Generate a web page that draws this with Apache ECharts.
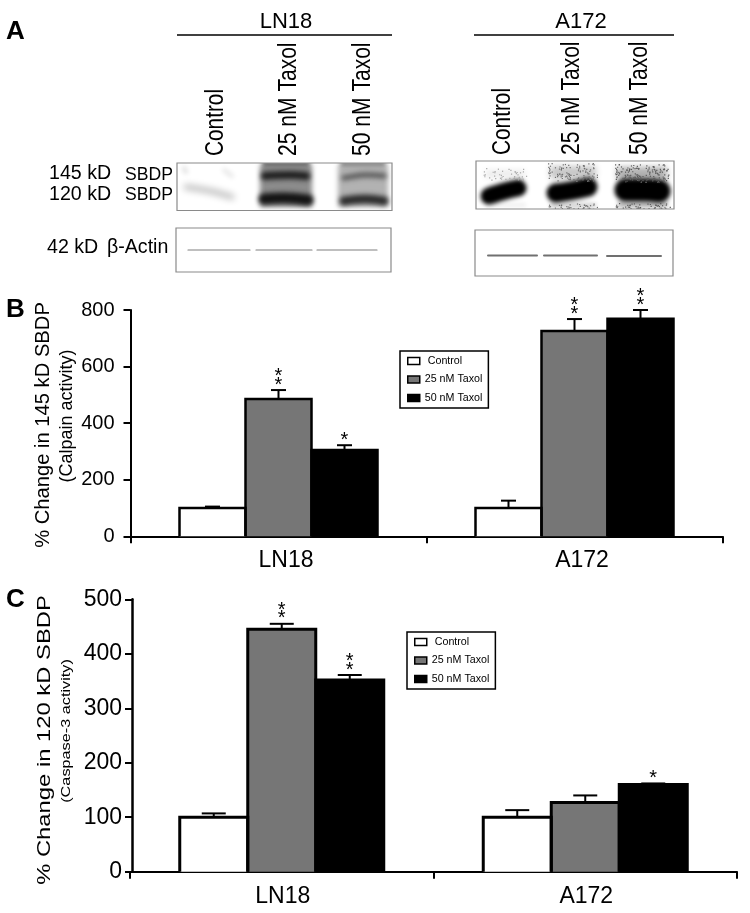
<!DOCTYPE html>
<html>
<head>
<meta charset="utf-8">
<title>SBDP</title>
<script src="https://cdn.jsdelivr.net/npm/echarts@6/dist/echarts.min.js"></script>
<style>
  html, body { margin: 0; padding: 0; background: #fff; }
  #main { width: 750px; height: 913px; }
</style>
</head>
<body>
<div id="main"></div>
<script>
var FONT = '"Liberation Sans", Arial, sans-serif';

var cellLines = ['LN18', 'A172'];
var treatments = ['Control', '25 nM Taxol', '50 nM Taxol'];
var fills = ['#ffffff', '#767676', '#000000'];

// panel B, 145 kD, one value per cell line
var b145Control = [100, 100];
var b145Taxol25 = [485, 726];
var b145Taxol50 = [305, 769];
var b145ControlErr = [5, 26];
var b145Taxol25Err = [32, 42];
var b145Taxol50Err = [17, 31];
var b145Stars = [[0, 0], [2, 2], [1, 2]];

// panel C, 120 kD
var c120Control = [100, 100];
var c120Taxol25 = [445, 127];
var c120Taxol50 = [352, 160];
var c120ControlErr = [7, 13];
var c120Taxol25Err = [10, 13];
var c120Taxol50Err = [9, 2];
var c120Stars = [[0, 0], [2, 0], [2, 1]];

var BAR_B = 66;
var BAR_C = 68;
var CAP_B = 15;
var CAP_C = 24;

var chart = echarts.init(document.getElementById('main'));

// rows for the overlay series: group, treatment, mean, error, stars
function errorRows(means, errs, stars) {
  var rows = [];
  means.forEach(function (m, t) {
    m.forEach(function (v, g) {
      rows.push([g, t, v, errs[t][g], stars[t][g]]);
    });
  });
  return rows;
}

// bar outline (open at the bottom, the axis closes it), error bar and stars
function errorSeries(gridIdx, rows, barW, capW, border) {
  return {
    type: 'custom',
    xAxisIndex: gridIdx,
    yAxisIndex: gridIdx,
    z: 5,
    clip: false,
    encode: { x: 0, y: 2 },
    data: rows,
    renderItem: function (params, api) {
      var g = api.value(0), t = api.value(1), mean = api.value(2), err = api.value(3), n = api.value(4);
      var base = api.coord([g, mean]);
      var zero = api.coord([g, 0]);
      var cap = api.coord([g, mean + err]);
      var x = base[0] + (t - 1) * barW;
      var kids = [
        {
          type: 'polyline',
          shape: { points: [[x - barW / 2, zero[1]], [x - barW / 2, base[1]], [x + barW / 2, base[1]], [x + barW / 2, zero[1]]] },
          style: { fill: 'none', stroke: '#000', lineWidth: border }
        },
        { type: 'line', shape: { x1: x, y1: base[1], x2: x, y2: cap[1] }, style: { stroke: '#000', lineWidth: 2 } },
        { type: 'line', shape: { x1: x - capW / 2, y1: cap[1], x2: x + capW / 2, y2: cap[1] }, style: { stroke: '#000', lineWidth: 2 } }
      ];
      for (var i = 0; i < n; i++) {
        kids.push({
          type: 'text',
          style: {
            text: '*', x: x, y: cap[1] - 8 - i * 8.5 + 3, fill: '#000',
            fontFamily: FONT, fontSize: 20, textAlign: 'center', textVerticalAlign: 'middle'
          }
        });
      }
      return { type: 'group', children: kids };
    }
  };
}

function barSeries(gridIdx, values, t, barW) {
  return {
    name: treatments[t],
    type: 'bar',
    xAxisIndex: gridIdx,
    yAxisIndex: gridIdx,
    data: values,
    barWidth: barW,
    barGap: '0%',
    itemStyle: { color: fills[t] },
    silent: true
  };
}

function xAxisFor(gridIdx, fontSize, pad) {
  return {
    type: 'category',
    gridIndex: gridIdx,
    data: cellLines,
    axisLine: { lineStyle: { color: '#000', width: 2 } },
    axisTick: { show: true, length: 7, lineStyle: { color: '#000', width: 2 } },
    axisLabel: { color: '#000', fontFamily: FONT, fontSize: fontSize, margin: 13, padding: pad }
  };
}

function yAxisFor(gridIdx, max, interval, fontSize, margin, shift, width) {
  return {
    type: 'value',
    gridIndex: gridIdx,
    min: 0,
    max: max,
    interval: interval,
    offset: shift,
    splitLine: { show: false },
    axisLine: { show: true, lineStyle: { color: '#000', width: width } },
    axisTick: { show: true, length: 7, lineStyle: { color: '#000', width: 2 } },
    axisLabel: { color: '#000', fontFamily: FONT, fontSize: fontSize, margin: margin }
  };
}

function legendFor(left, top) {
  return {
    left: left,
    top: top,
    orient: 'vertical',
    data: treatments,
    icon: 'rect',
    itemWidth: 12,
    itemHeight: 7,
    itemGap: 7.5,
    padding: [4.5, 6, 4.5, 7],
    borderColor: '#000',
    borderWidth: 1.5,
    backgroundColor: '#fff',
    selectedMode: false,
    itemStyle: { borderColor: '#000', borderWidth: 1.5 },
    textStyle: { color: '#000', fontFamily: FONT, fontSize: 10.7 },
    formatter: function (name) { return name === 'Control' ? ' Control' : name; }
  };
}

// ---- panel A and free text ----
function label(text, x, y, size, opts) {
  opts = opts || {};
  return {
    type: 'text', x: x, y: y,
    rotation: opts.rot || 0,
    scaleX: opts.sx || 1,
    scaleY: opts.sy || 1,
    z: 10,
    style: {
      text: text, fill: '#000', fontFamily: FONT, fontSize: size,
      fontWeight: opts.weight || 'normal',
      textAlign: opts.align || 'left', textVerticalAlign: 'middle'
    }
  };
}

function vLabel(text, x, yBottom, size, sx) {
  return label(text, x, yBottom, size, { rot: Math.PI / 2, sx: sx });
}

function frame(x, y, w, h) {
  return { type: 'rect', shape: { x: x, y: y, width: w, height: h }, z: 4, style: { fill: 'none', stroke: '#8a8a8a', lineWidth: 1.2 } };
}

// blots are drawn off the page and only their blurred shadow lands inside the frame
var OFF = 2000;

function smear(points, width, color, blur) {
  return {
    type: 'polyline', z: 2,
    shape: { points: points.map(function (p) { return [p[0] - OFF, p[1]]; }), smooth: 0.4 },
    style: { fill: 'none', stroke: '#000', lineWidth: width, lineCap: 'round', shadowBlur: blur, shadowColor: color, shadowOffsetX: OFF }
  };
}

function patch(x, y, w, h, color, blur) {
  return {
    type: 'rect', z: 1,
    shape: { x: x - OFF, y: y, width: w, height: h },
    style: { fill: '#000', shadowBlur: blur, shadowColor: color, shadowOffsetX: OFF }
  };
}

// film grain on the over-exposed A172 lanes, fixed pattern
function grain(x, y, w, h, count, color) {
  var dots = [];
  for (var i = 1; i <= count; i++) {
    dots.push({
      type: 'rect', z: 2,
      shape: {
        x: x + ((i * i * 17 + i * 29) % 211) / 211 * w,
        y: y + ((i * i * i * 7 + i * 53) % 197) / 197 * h,
        width: 1.2, height: 1.2
      },
      style: { fill: color }
    });
  }
  return dots;
}

// white edges so nothing blurred shows outside a blot
function mask(x, y, w, h) {
  var pad = 14;
  return [
    [x - pad, y - pad, w + 2 * pad, pad],
    [x - pad, y + h, w + 2 * pad, pad],
    [x - pad, y, pad, h],
    [x + w, y, pad, h]
  ].map(function (r) {
    return { type: 'rect', z: 3, shape: { x: r[0], y: r[1], width: r[2], height: r[3] }, style: { fill: '#fff' } };
  });
}

function thinBand(x1, x2, y, color, width) {
  return { type: 'line', z: 2, shape: { x1: x1, y1: y, x2: x2, y2: y }, style: { stroke: color, lineWidth: width, lineCap: 'round' } };
}

function hLine(x1, x2, y) {
  return { type: 'line', z: 3, shape: { x1: x1, y1: y, x2: x2, y2: y }, style: { stroke: '#000', lineWidth: 1.5 } };
}

var panelA = [
  label('A', 6, 32, 26, { weight: 'bold' }),
  label('B', 6, 310, 26, { weight: 'bold' }),
  label('C', 6, 600, 26, { weight: 'bold' }),

  label('LN18', 286, 22, 22, { align: 'center' }),
  label('A172', 581, 22, 22, { align: 'center' }),
  hLine(177, 392, 35),
  hLine(474, 674, 35),

  vLabel('Control', 215.5, 156, 26, 0.8),
  vLabel('25 nM Taxol', 289, 156, 26, 0.81),
  vLabel('50 nM Taxol', 363, 156, 26, 0.81),
  vLabel('Control', 503, 155, 26, 0.8),
  vLabel('25 nM Taxol', 572, 155, 26, 0.81),
  vLabel('50 nM Taxol', 640, 155, 26, 0.81),

  label('145 kD', 49, 174, 19.6),
  label('120 kD', 49, 195, 19.6),
  label('SBDP', 125, 175, 17.6),
  label('SBDP', 125, 195, 17.6),
  label('42 kD', 47, 248, 19.6),
  label('\u03b2-Actin', 107, 248, 19.6),

  // LN18 blot
  smear([[186, 187], [210, 191], [232, 197]], 5, '#b8b8b8', 7),
  smear([[184, 168], [186, 172]], 4, '#dcdcdc', 5),
  smear([[224, 170], [232, 176]], 4, '#e4e4e4', 5),
  patch(260, 165, 52, 42, '#8c8c8c', 5),
  smear([[265, 176], [290, 175], [306, 176]], 8, '#1e1e1e', 5),
  smear([[264, 199], [285, 198], [308, 200]], 11, '#141414', 5),
  smear([[264, 164], [308, 164]], 4, '#444444', 4),
  patch(338, 165, 50, 42, '#b2b2b2', 5),
  smear([[344, 178], [365, 175], [384, 176]], 5, '#555555', 5),
  smear([[344, 201], [365, 199], [384, 201]], 9, '#2c2c2c', 5),
  smear([[342, 164], [384, 164]], 4, '#6a6a6a', 4),

  // A172 blot
  patch(485, 170, 40, 8, '#ececec', 6),
  patch(486, 203, 40, 4, '#efefef', 4),
  smear([[489, 196], [505, 191], [518, 188]], 17, '#000000', 4),
  patch(550, 166, 46, 13, '#c8c8c8', 6),
  patch(550, 203, 46, 5, '#d0d0d0', 4),
  smear([[556, 193], [575, 190], [588, 187]], 19, '#000000', 4),
  patch(617, 167, 50, 13, '#b0b0b0', 6),
  patch(618, 201, 50, 7, '#bcbcbc', 4),
  smear([[626, 190], [645, 190], [659, 191]], 23, '#000000', 4)
].concat(
  grain(483, 168, 44, 12, 45, '#a8a8a8'),
  grain(548, 163, 50, 18, 110, '#707070'),
  grain(548, 203, 50, 6, 40, '#707070'),
  grain(615, 164, 54, 18, 150, '#5c5c5c'),
  grain(615, 203, 56, 6, 50, '#5c5c5c'),
  mask(177, 163, 215, 47.5),
  mask(476, 161, 198, 48),
  [
    frame(177, 163, 215, 47.5),
    frame(476, 161, 198, 48),

    // actin blots
    thinBand(188, 250, 250, '#808080', 1.2),
    thinBand(256, 312, 250, '#808080', 1.2),
    thinBand(317, 377, 250, '#808080', 1.2),
    frame(176, 228, 215, 44),
    thinBand(488, 537, 255.5, '#707070', 2),
    thinBand(544, 597, 255.5, '#707070', 2),
    thinBand(607, 661, 256, '#707070', 2),
    frame(475, 230, 198, 46),

    // y titles, stretched the way the figure has them
    label('% Change in 145 kD SBDP', 43, 425, 20.2, { rot: Math.PI / 2, align: 'center' }),
    label('(Calpain activity)', 67, 416, 18, { rot: Math.PI / 2, align: 'center' }),
    label('% Change in 120 kD SBDP', 45, 740, 17.5, { rot: Math.PI / 2, align: 'center', sx: 1.36 }),
    label('(Caspase-3 activity)', 66, 731, 13, { rot: Math.PI / 2, align: 'center', sx: 1.25 })
  ]
);

chart.setOption({
  animation: false,
  backgroundColor: '#fff',
  grid: [
    { left: 130.5, top: 310, width: 592, height: 226.3 },
    { left: 130, top: 599.3, width: 607, height: 272.4 }
  ],
  xAxis: [xAxisFor(0, 23, [0, 0, 0, 15]), xAxisFor(1, 23, [0, 0, 0, 2])],
  yAxis: [yAxisFor(0, 800, 200, 20, 16, 0, 2), yAxisFor(1, 500, 100, 23, 10, -2, 2.5)],
  legend: [legendFor(400, 351), legendFor(407, 632)],
  series: [
    barSeries(0, b145Control, 0, BAR_B),
    barSeries(0, b145Taxol25, 1, BAR_B),
    barSeries(0, b145Taxol50, 2, BAR_B),
    errorSeries(0, errorRows([b145Control, b145Taxol25, b145Taxol50], [b145ControlErr, b145Taxol25Err, b145Taxol50Err], b145Stars), BAR_B, CAP_B, 2.5),
    barSeries(1, c120Control, 0, BAR_C),
    barSeries(1, c120Taxol25, 1, BAR_C),
    barSeries(1, c120Taxol50, 2, BAR_C),
    errorSeries(1, errorRows([c120Control, c120Taxol25, c120Taxol50], [c120ControlErr, c120Taxol25Err, c120Taxol50Err], c120Stars), BAR_C, CAP_C, 3)
  ],
  graphic: { elements: panelA }
});
</script>
</body>
</html>
